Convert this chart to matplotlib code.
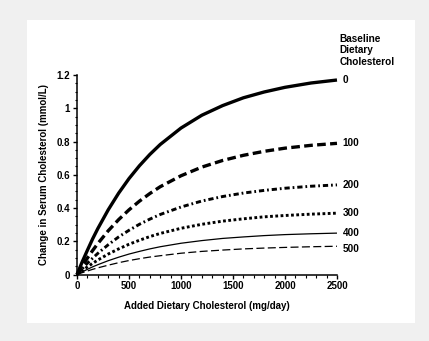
import matplotlib
matplotlib.use("Agg")
import matplotlib.pyplot as plt
from matplotlib.patches import Rectangle
from matplotlib.ticker import MultipleLocator

plt.rcParams['font.family'] = ['Liberation Sans', 'DejaVu Sans']
plt.rcParams['font.weight'] = 'bold'

# added dietary cholesterol (mg/day)
added = [0, 50, 100, 150, 200, 300, 400, 500, 600, 700, 800, 1000,
         1200, 1400, 1600, 1800, 2000, 2250, 2500]

# change in serum cholesterol (mmol/L) per baseline dietary cholesterol
base_0 = [0, 0.076, 0.146, 0.214, 0.276, 0.389, 0.489, 0.577, 0.654, 0.722,
          0.782, 0.881, 0.958, 1.016, 1.063, 1.098, 1.126, 1.152, 1.170]
base_100 = [0, 0.051, 0.099, 0.144, 0.186, 0.263, 0.330, 0.389, 0.441, 0.487,
            0.528, 0.594, 0.646, 0.686, 0.717, 0.741, 0.760, 0.777, 0.789]
base_200 = [0, 0.035, 0.068, 0.098, 0.127, 0.179, 0.226, 0.266, 0.302, 0.333,
            0.361, 0.406, 0.442, 0.469, 0.490, 0.506, 0.519, 0.531, 0.539]
base_300 = [0, 0.024, 0.046, 0.067, 0.087, 0.123, 0.154, 0.182, 0.206, 0.228,
            0.247, 0.278, 0.302, 0.321, 0.335, 0.347, 0.355, 0.363, 0.369]
base_400 = [0, 0.016, 0.031, 0.046, 0.059, 0.083, 0.104, 0.123, 0.139, 0.154,
            0.167, 0.188, 0.204, 0.217, 0.226, 0.234, 0.240, 0.245, 0.249]
base_500 = [0, 0.011, 0.021, 0.031, 0.040, 0.056, 0.071, 0.084, 0.095, 0.105,
            0.113, 0.128, 0.139, 0.147, 0.154, 0.159, 0.163, 0.167, 0.170]

series = [base_0, base_100, base_200, base_300, base_400, base_500]
names = ['0', '100', '200', '300', '400', '500']
label_y = [1.17, 0.79, 0.54, 0.37, 0.25, 0.155]

# (linewidth, dash pattern)
styles = [
    (2.4, None),
    (2.4, (2.6, 1.3)),
    (2.1, (1.8, 1.0, 0.6, 1.0)),
    (2.1, (0.95, 0.85)),
    (0.9, None),
    (0.9, (6.4, 2.7)),
]

fig = plt.figure(figsize=(4.29, 3.41), dpi=100)
fig.patch.set_facecolor('#f0f0f0')
panel = Rectangle((0.063, 0.053), 0.904, 0.888, transform=fig.transFigure,
                  facecolor='white', edgecolor='none', zorder=-10)
fig.add_artist(panel)

ax = fig.add_axes([0.1795, 0.195, 0.606, 0.585])
ax.set_zorder(1)
ax.set_facecolor('none')

for vals, (lw, dash) in zip(series, styles):
    line, = ax.plot(added, vals, color='black', lw=lw, solid_capstyle='butt',
                    dash_capstyle='butt', clip_on=False)
    if dash is not None:
        line.set_dashes(dash)

for name, yv in zip(names, label_y):
    ax.annotate(name, xy=(2500, yv), xytext=(4, 0), textcoords='offset points',
                ha='left', va='center', fontsize=7.2, fontweight='bold',
                annotation_clip=False)

ax.text(1.01, 1.205, 'Baseline\nDietary\nCholesterol', transform=ax.transAxes,
        ha='left', va='top', fontsize=7.2, fontweight='bold', linespacing=1.15)

ax.set_xlim(0, 2500)
ax.set_ylim(0, 1.2)
ax.xaxis.set_major_locator(MultipleLocator(500))
ax.xaxis.set_minor_locator(MultipleLocator(100))
ax.yaxis.set_minor_locator(MultipleLocator(0.05))
ax.set_yticks([0, 0.2, 0.4, 0.6, 0.8, 1.0, 1.2])
ax.set_yticklabels(['0', '0.2', '0.4', '0.6', '0.8', '1', '1.2'])

for s in ['top', 'right']:
    ax.spines[s].set_visible(False)
for s in ['left', 'bottom']:
    ax.spines[s].set_linewidth(1.1)

ax.tick_params(which='major', length=3, width=1.0, labelsize=7, pad=2)
ax.tick_params(which='minor', length=1.8, width=0.8)
for lab in ax.get_xticklabels() + ax.get_yticklabels():
    lab.set_fontweight('bold')

ax.set_xlabel('Added Dietary Cholesterol (mg/day)', fontsize=7,
              fontweight='bold', labelpad=7)
ax.set_ylabel('Change in Serum Cholesterol (mmol/L)', fontsize=7,
              fontweight='bold', labelpad=5)

fig.savefig('out.png', dpi=100, facecolor=fig.get_facecolor())
